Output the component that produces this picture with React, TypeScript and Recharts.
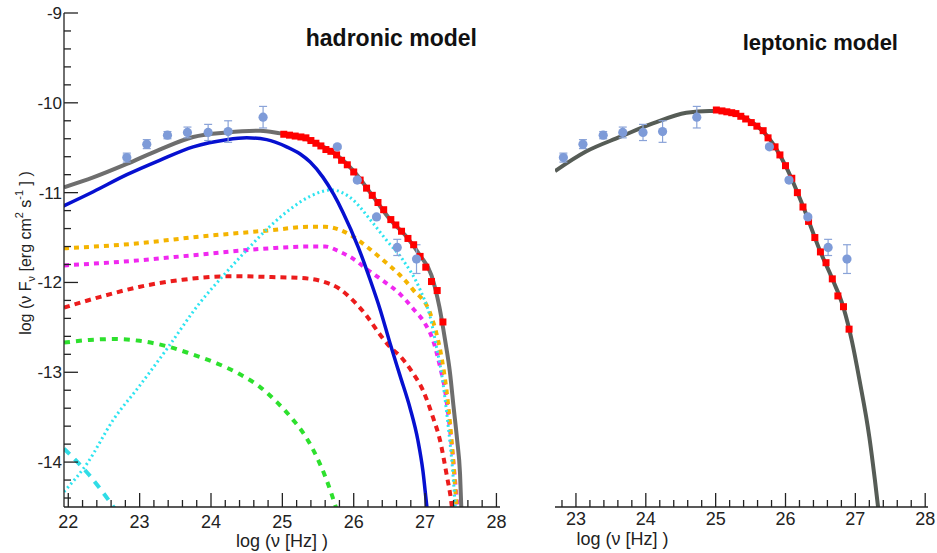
import React from 'react';
import { ComposedChart, Line, Scatter, XAxis, YAxis, ErrorBar } from 'recharts';

const FONT = '"Liberation Sans", Arial, Helvetica, sans-serif';

// ---------- tick labels ----------
const xTickLabels = [22, 23, 24, 25, 26, 27, 28];
const yTickLabels = [-14, -13, -12, -11, -10, -9];
const xTicksLeft = Array.from({ length: 31 }, (_, i) => (110 + i) / 5); // 22 .. 28 every 0.2
const xTicksRight = Array.from({ length: 27 }, (_, i) => (114 + i) / 5); // 22.8 .. 28 every 0.2
const yTicks = Array.from({ length: 28 }, (_, i) => (-72 + i) / 5); // -14.4 .. -9 every 0.2

// ---------- observed (blue points with error bars) ----------
const obsX = [22.82, 23.1, 23.39, 23.67, 23.96, 24.24, 24.73, 25.77, 26.05, 26.32, 26.61, 26.88];
const obsY = [-10.61, -10.46, -10.36, -10.33, -10.33, -10.32, -10.16, -10.49, -10.86, -11.27, -11.61, -11.74];
const obsErr = [0.05, 0.05, 0.04, 0.06, 0.09, 0.12, 0.12, 0.02, 0.02, 0.02, 0.09, 0.16];

// ---------- red squares, hadronic panel ----------
const hadRedX = [25.02, 25.1, 25.18, 25.26, 25.33, 25.4, 25.47, 25.54, 25.61, 25.68, 25.76, 25.83, 25.91, 26.0, 26.09, 26.18, 26.26, 26.34, 26.42, 26.52, 26.59, 26.67, 26.76, 26.84, 26.93, 27.01, 27.09, 27.17, 27.25];
const hadRedY = [-10.35, -10.36, -10.37, -10.38, -10.39, -10.42, -10.45, -10.48, -10.52, -10.54, -10.58, -10.64, -10.69, -10.77, -10.86, -10.95, -11.03, -11.11, -11.19, -11.3, -11.36, -11.43, -11.51, -11.58, -11.71, -11.83, -11.99, -12.09, -12.44];

// ---------- red squares, leptonic panel ----------
const lepRedX = [25.01, 25.09, 25.16, 25.23, 25.29, 25.36, 25.43, 25.51, 25.59, 25.68, 25.75, 25.85, 25.92, 26.0, 26.09, 26.17, 26.25, 26.33, 26.42, 26.5, 26.58, 26.67, 26.75, 26.83, 26.91];
const lepRedY = [-10.08, -10.09, -10.1, -10.11, -10.12, -10.15, -10.18, -10.22, -10.26, -10.31, -10.39, -10.49, -10.58, -10.7, -10.84, -11.0, -11.16, -11.32, -11.5, -11.66, -11.78, -11.96, -12.15, -12.27, -12.52];

// ---------- hadronic model curves ----------
const hadTotalX = [21.94, 22.35, 22.82, 23.28, 23.75, 24.22, 24.69, 24.97, 25.25, 25.5, 25.76, 26.0, 26.26, 26.51, 26.76, 26.93, 27.09, 27.2, 27.28, 27.35, 27.4, 27.45, 27.49, 27.51];
const hadTotalY = [-10.94, -10.83, -10.68, -10.52, -10.38, -10.33, -10.31, -10.34, -10.38, -10.46, -10.58, -10.76, -11.03, -11.3, -11.51, -11.7, -11.92, -12.27, -12.64, -13.01, -13.39, -13.76, -14.13, -14.55];

const protonSynX = [21.93, 22.35, 22.82, 23.28, 23.75, 24.22, 24.5, 24.78, 25.06, 25.25, 25.39, 25.57, 25.72, 25.85, 26.06, 26.23, 26.37, 26.51, 26.65, 26.79, 26.9, 26.97, 27.02, 27.04];
const protonSynY = [-11.15, -10.99, -10.8, -10.64, -10.49, -10.41, -10.39, -10.41, -10.49, -10.57, -10.66, -10.83, -11.02, -11.22, -11.6, -11.97, -12.3, -12.68, -13.04, -13.4, -13.76, -14.1, -14.46, -14.6];

const cyanDotX = [21.94, 22.26, 22.63, 22.99, 23.4, 23.84, 24.2, 24.5, 24.82, 25.1, 25.39, 25.69, 25.99, 26.23, 26.46, 26.69, 26.93, 27.07, 27.16, 27.23, 27.32, 27.39, 27.42, 27.43];
const cyanDotY = [-14.33, -14.02, -13.53, -13.16, -12.72, -12.23, -11.9, -11.64, -11.38, -11.19, -11.04, -10.97, -11.08, -11.3, -11.53, -11.75, -12.08, -12.38, -12.72, -13.01, -13.57, -14.13, -14.46, -14.6];

const orangeX = [21.94, 22.9, 23.84, 24.82, 25.39, 25.6, 25.95, 26.18, 26.41, 26.65, 26.83, 27.07, 27.16, 27.23, 27.3, 27.35, 27.39, 27.44, 27.46];
const orangeY = [-11.62, -11.57, -11.49, -11.42, -11.38, -11.38, -11.47, -11.6, -11.75, -11.92, -12.08, -12.34, -12.57, -12.83, -13.2, -13.57, -13.94, -14.46, -14.6];

const magentaX = [21.94, 22.9, 23.84, 24.82, 25.39, 25.6, 25.81, 26.0, 26.18, 26.41, 26.65, 26.83, 27.0, 27.11, 27.21, 27.28, 27.34, 27.39, 27.45, 27.47];
const magentaY = [-11.81, -11.76, -11.69, -11.62, -11.6, -11.6, -11.66, -11.74, -11.85, -11.98, -12.13, -12.29, -12.46, -12.64, -12.94, -13.2, -13.57, -13.94, -14.46, -14.6];

const redDashX = [21.94, 22.45, 22.99, 23.6, 24.31, 24.85, 25.25, 25.57, 25.8, 25.99, 26.18, 26.34, 26.51, 26.65, 26.83, 26.97, 27.11, 27.21, 27.3, 27.37, 27.39];
const redDashY = [-12.28, -12.16, -12.05, -11.97, -11.93, -11.94, -11.95, -11.99, -12.07, -12.2, -12.37, -12.55, -12.72, -12.82, -13.01, -13.2, -13.5, -13.76, -14.13, -14.46, -14.6];

const greenX = [21.94, 22.3, 22.63, 23.0, 23.38, 23.7, 24.08, 24.4, 24.68, 24.92, 25.15, 25.33, 25.48, 25.62, 25.77];
const greenY = [-12.67, -12.64, -12.63, -12.65, -12.71, -12.79, -12.9, -13.02, -13.16, -13.33, -13.53, -13.72, -13.94, -14.2, -14.55];

const tealX = [21.94, 22.3, 22.68];
const tealY = [-13.85, -14.15, -14.55];

// ---------- leptonic model curve ----------
const lepTotalX = [22.7, 23.15, 23.63, 24.1, 24.58, 24.91, 25.06, 25.29, 25.51, 25.75, 26.0, 26.25, 26.5, 26.67, 26.83, 26.95, 27.06, 27.2, 27.28, 27.34];
const lepTotalY = [-10.76, -10.54, -10.38, -10.23, -10.11, -10.09, -10.09, -10.12, -10.21, -10.38, -10.7, -11.15, -11.66, -11.96, -12.28, -12.65, -13.09, -13.72, -14.2, -14.6];

const zip = (xs: number[], ys: number[]) => xs.map((x, i) => ({ x, y: ys[i] }));
const obsData = obsX.map((x, i) => ({ x, y: obsY[i], err: obsErr[i] }));

const Y_DOMAIN: [number, number] = [-14.5, -9];
const AXIS = '#222';

const isMajor = (v: number) => Math.abs(v - Math.round(v)) < 1e-6;

const YTick = (props: any) => {
  const { x, y, payload } = props;
  const v = payload.value;
  const major = isMajor(v);
  return (
    <g>
      <line x1={x} x2={x + (major ? 14 : 7)} y1={y} y2={y} stroke={AXIS} strokeWidth={1.3} />
      {major && yTickLabels.includes(Math.round(v)) && (
        <text x={x - 2} y={y + 6} textAnchor="end" fontSize={17} fontFamily={FONT} fill={AXIS}>
          {Math.round(v)}
        </text>
      )}
    </g>
  );
};

const XTick = (props: any) => {
  const { x, y, payload, labelDy } = props;
  const v = payload.value;
  const major = isMajor(v);
  return (
    <g>
      <line x1={x} x2={x} y1={y} y2={y - (major ? 14 : 7)} stroke={AXIS} strokeWidth={1.3} />
      {major && xTickLabels.includes(Math.round(v)) && (
        <text x={x} y={y + labelDy} textAnchor="middle" fontSize={18} fontFamily={FONT} fill={AXIS}>
          {Math.round(v)}
        </text>
      )}
    </g>
  );
};

const Square = (props: any) => {
  const { cx, cy } = props;
  return <rect x={cx - 3.5} y={cy - 3.5} width={7} height={7} fill="#ff0000" />;
};

const Dot = (props: any) => {
  const { cx, cy } = props;
  return <circle cx={cx} cy={cy} r={4.6} fill="#7e9bd8" />;
};

const curve = (key: string, data: any[], stroke: string, width: number, dash?: string) => (
  <Line
    key={key}
    data={data}
    dataKey="y"
    type="monotone"
    stroke={stroke}
    strokeWidth={width}
    strokeDasharray={dash}
    dot={false}
    activeDot={false}
    isAnimationActive={false}
  />
);

const frameAxes = () => [
  <XAxis key="top" xAxisId="top" orientation="top" type="number" domain={[0, 1]} height={0} tick={false} tickLine={false} axisLine={{ stroke: AXIS, strokeWidth: 1.3 }} />,
  <YAxis key="right" yAxisId="right" orientation="right" type="number" domain={[0, 1]} width={0} tick={false} tickLine={false} axisLine={{ stroke: AXIS, strokeWidth: 1.3 }} />,
];

export default function App() {
  return (
    <div style={{ position: 'absolute', left: 0, top: 0, width: 937, height: 553, background: '#fff', overflow: 'hidden' }}>
      {/* hadronic panel */}
      <div style={{ position: 'absolute', left: 0, top: 0 }}>
        <ComposedChart width={520} height={553} margin={{ top: 13, right: 20, bottom: 6, left: 4 }}>
          <XAxis
            type="number"
            dataKey="x"
            domain={[21.94, 28.05]}
            allowDataOverflow
            ticks={xTicksLeft}
            interval={0}
            tick={<XTick labelDy={21} />}
            tickLine={false}
            tickSize={0}
            tickMargin={0}
            height={40}
            axisLine={{ stroke: AXIS, strokeWidth: 1.3 }}
            label={{ value: 'log (ν [Hz] )', position: 'insideBottom', offset: 0, fontSize: 18, fontFamily: FONT, fill: AXIS }}
          />
          <YAxis
            type="number"
            dataKey="y"
            domain={Y_DOMAIN}
            allowDataOverflow
            ticks={yTicks}
            interval={0}
            tick={<YTick />}
            tickLine={false}
            tickSize={0}
            tickMargin={0}
            width={60}
            axisLine={{ stroke: AXIS, strokeWidth: 1.3 }}
          />
          {frameAxes()}
          {curve('green', zip(greenX, greenY), '#2de02d', 4, '6 6')}
          {curve('teal', zip(tealX, tealY), '#30dce6', 4, '8 7')}
          {curve('red', zip(redDashX, redDashY), '#ec1c1c', 4, '6 5')}
          {curve('magenta', zip(magentaX, magentaY), '#f028f0', 4, '5 5')}
          {curve('orange', zip(orangeX, orangeY), '#f4b400', 4, '5 5')}
          {curve('cyan', zip(cyanDotX, cyanDotY), '#2ee4f0', 3, '2 3')}
          {curve('blue', zip(protonSynX, protonSynY), '#0610d0', 3.5)}
          {curve('total', zip(hadTotalX, hadTotalY), '#6e6e6e', 4)}
          <Scatter data={zip(hadRedX, hadRedY)} shape={<Square />} isAnimationActive={false} />
          <Scatter data={obsData} shape={<Dot />} isAnimationActive={false}>
            <ErrorBar dataKey="err" direction="y" width={4} stroke="#8aa3d8" strokeWidth={1.2} />
          </Scatter>
        </ComposedChart>
      </div>

      {/* leptonic panel */}
      <div style={{ position: 'absolute', left: 540, top: 0 }}>
        <ComposedChart width={397} height={553} margin={{ top: 13, right: 9, bottom: 6, left: 15 }}>
          <XAxis
            type="number"
            dataKey="x"
            domain={[22.7, 28.04]}
            allowDataOverflow
            ticks={xTicksRight}
            interval={0}
            tick={<XTick labelDy={18} />}
            tickLine={false}
            tickSize={0}
            tickMargin={0}
            height={40}
            axisLine={{ stroke: AXIS, strokeWidth: 1.3 }}
            label={{ value: 'log (ν [Hz] )', position: 'insideBottom', offset: 2, dx: -119, fontSize: 18, fontFamily: FONT, fill: AXIS }}
          />
          <YAxis type="number" dataKey="y" domain={Y_DOMAIN} allowDataOverflow hide />
          {frameAxes()}
          {curve('leptotal', zip(lepTotalX, lepTotalY), '#565c56', 4)}
          <Scatter data={zip(lepRedX, lepRedY)} shape={<Square />} isAnimationActive={false} />
          <Scatter data={obsData} shape={<Dot />} isAnimationActive={false}>
            <ErrorBar dataKey="err" direction="y" width={4} stroke="#8aa3d8" strokeWidth={1.2} />
          </Scatter>
        </ComposedChart>
      </div>

      {/* titles */}
      <svg width={937} height={553} style={{ position: 'absolute', left: 0, top: 0, pointerEvents: 'none' }}>
        <text x={477} y={46} textAnchor="end" fontSize={23} fontWeight="bold" fontFamily={FONT} fill="#111">hadronic model</text>
        <text x={898} y={50} textAnchor="end" fontSize={22} fontWeight="bold" fontFamily={FONT} fill="#111">leptonic model</text>
        <text transform="translate(25,253) rotate(-90)" textAnchor="middle" dominantBaseline="central" fontSize={16} fontFamily={FONT} fill={AXIS}>
          log (ν F<tspan baselineShift="sub" fontSize={11}>ν</tspan> [erg cm<tspan baselineShift="super" fontSize={11}>2</tspan> s<tspan baselineShift="super" fontSize={11}>-1</tspan> ] )
        </text>
      </svg>
    </div>
  );
}
